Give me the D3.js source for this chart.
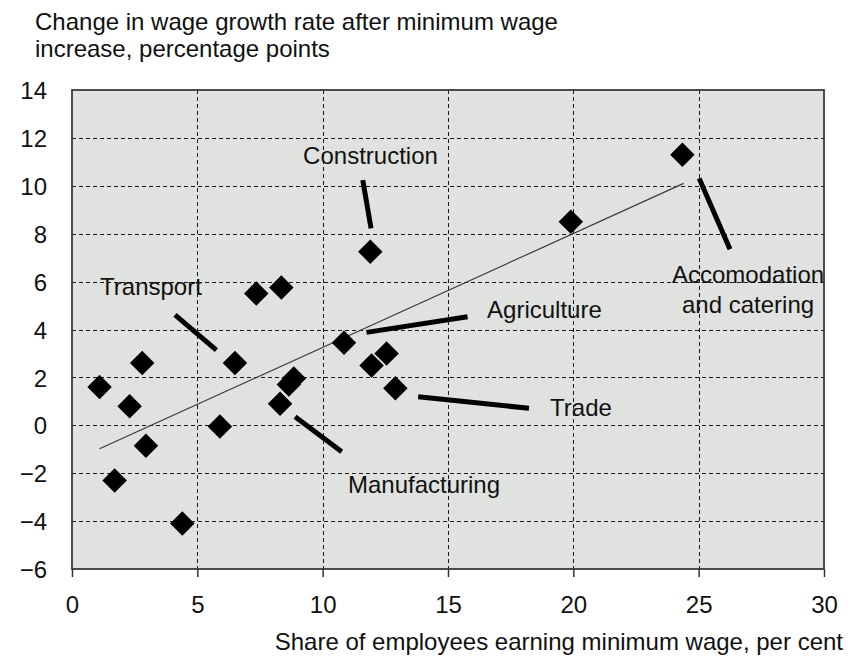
<!DOCTYPE html>
<html>
<head>
<meta charset="utf-8">
<script src="https://cdn.jsdelivr.net/npm/d3@7/dist/d3.min.js"></script>
<style>
  html, body { margin: 0; padding: 0; background: #ffffff; }
  svg { display: block; }
  text { font-family: "Liberation Sans", Arial, sans-serif; fill: #111; }
</style>
</head>
<body>
<div id="chart"></div>
<script>
// ---- data ----
const shareMinWage = [1.1, 2.8, 2.3, 2.95, 1.7, 4.4, 5.9, 6.5, 7.35, 8.35, 8.85, 8.65, 8.3, 10.85, 12.55, 11.95, 12.9, 11.9, 19.9, 24.35];
const wageGrowthChange = [1.6, 2.6, 0.8, -0.85, -2.3, -4.1, -0.05, 2.6, 5.5, 5.75, 1.95, 1.7, 0.9, 3.45, 3.0, 2.5, 1.55, 7.25, 8.5, 11.3];
const trendX = [1.1, 24.4];
const trendY = [-0.98, 10.1];
const xTicks = [0, 5, 10, 15, 20, 25, 30];
const yTicks = [14, 12, 10, 8, 6, 4, 2, 0, -2, -4, -6];
const sectorNames = ["Construction", "Transport", "Agriculture", "Trade", "Manufacturing", "Accomodation|and catering"];
const leaderX1 = [11.6, 4.11, 11.75, 13.81, 8.9, 25.02];
const leaderY1 = [10.24, 4.61, 3.88, 1.19, 0.36, 10.31];
const leaderX2 = [11.93, 5.76, 15.78, 18.23, 10.76, 26.25];
const leaderY2 = [8.22, 3.14, 4.53, 0.71, -1.1, 7.35];
const yTitle = ["Change in wage growth rate after minimum wage", "increase, percentage points"];
const xTitle = "Share of employees earning minimum wage, per cent";

// ---- layout ----
const W = 858, H = 664;
const FONT = '"Liberation Sans", Arial, sans-serif';
const plot = { left: 72, right: 824, top: 90, bottom: 569 };
const labelPos = [  // label anchor (data units), layout only
  { x: 9.22, y: 10.91, anchor: "start" },
  { x: 1.12, y: 5.44, anchor: "start" },
  { x: 16.56, y: 4.48, anchor: "start" },
  { x: 19.07, y: 0.39, anchor: "start" },
  { x: 11.01, y: -2.83, anchor: "start" },
  { x: 26.97, y: 5.94, anchor: "middle", dy: 30 }
];

const svg = d3.select("#chart").append("svg").attr("width", W).attr("height", H);

const x = d3.scaleLinear().domain([0, 30]).range([plot.left, plot.right]);
const y = d3.scaleLinear().domain([-6, 14]).range([plot.bottom, plot.top]);

// background
svg.append("rect")
  .attr("x", plot.left).attr("y", plot.top)
  .attr("width", plot.right - plot.left).attr("height", plot.bottom - plot.top)
  .attr("fill", "#dfe2df");

// grid
const grid = svg.append("g").attr("stroke", "#1a1a1a").attr("stroke-width", 1).attr("stroke-dasharray", "4,3");
grid.selectAll("line.h").data(yTicks.filter(v => v > -6 && v < 14)).join("line")
  .attr("x1", plot.left).attr("x2", plot.right)
  .attr("y1", d => Math.round(y(d)) + 0.5).attr("y2", d => Math.round(y(d)) + 0.5);
grid.selectAll("line.v").data(xTicks.filter(v => v > 0 && v < 30)).join("line")
  .attr("y1", plot.top).attr("y2", plot.bottom)
  .attr("x1", d => Math.round(x(d)) + 0.5).attr("x2", d => Math.round(x(d)) + 0.5);

// x axis (ticks below)
const xAxis = d3.axisBottom(x).tickValues(xTicks).tickSize(8).tickSizeOuter(0).tickFormat(d3.format("d"));
const gx = svg.append("g").attr("transform", `translate(0,${plot.bottom})`).call(xAxis);
gx.select(".domain").remove();
gx.selectAll(".tick line").attr("stroke", "#333").attr("stroke-width", 1.5);
gx.selectAll(".tick text").attr("dy", null).attr("y", 44)
  .style("font-size", "24px").style("font-family", FONT).attr("fill", "#111");

// y axis (labels only)
const yAxis = d3.axisLeft(y).tickValues(yTicks).tickSize(0)
  .tickFormat(d => d < 0 ? "\u2212" + Math.abs(d) : String(d));
const gy = svg.append("g").attr("transform", `translate(${plot.left},0)`).call(yAxis);
gy.select(".domain").remove();
gy.selectAll(".tick text").attr("x", -25).attr("dy", "0.36em")
  .style("font-size", "24px").style("font-family", FONT).attr("fill", "#111");

// frame
svg.append("rect")
  .attr("x", plot.left).attr("y", plot.top)
  .attr("width", plot.right - plot.left).attr("height", plot.bottom - plot.top)
  .attr("fill", "none").attr("stroke", "#3a3a3a").attr("stroke-width", 1.8);

// trend line
svg.append("line")
  .attr("x1", x(trendX[0])).attr("y1", y(trendY[0]))
  .attr("x2", x(trendX[1])).attr("y2", y(trendY[1]))
  .attr("stroke", "#3a3a3a").attr("stroke-width", 1.2);

// leader lines
svg.append("g").selectAll("line").data(sectorNames.map((n, i) => i)).join("line")
  .attr("x1", i => x(leaderX1[i])).attr("y1", i => y(leaderY1[i]))
  .attr("x2", i => x(leaderX2[i])).attr("y2", i => y(leaderY2[i]))
  .attr("stroke", "#000").attr("stroke-width", 5);

// points (diamonds)
const diamond = d3.symbol().type(d3.symbolSquare).size(300);
svg.append("g").selectAll("path").data(shareMinWage.map((v, i) => [v, wageGrowthChange[i]])).join("path")
  .attr("d", diamond)
  .attr("transform", d => `translate(${x(d[0])},${y(d[1])}) rotate(45)`)
  .attr("fill", "#000");

// sector labels
sectorNames.forEach((name, i) => {
  const p = labelPos[i];
  name.split("|").forEach((ln, j) => {
    svg.append("text")
      .attr("x", x(p.x)).attr("y", y(p.y) + (j ? p.dy : 0))
      .attr("text-anchor", p.anchor)
      .style("font-size", "24px")
      .text(ln);
  });
});

// axis titles
yTitle.forEach((t, i) => {
  svg.append("text").attr("x", 35).attr("y", 30 + i * 27)
    .style("font-size", "24px").text(t);
});
svg.append("text").attr("x", 843).attr("y", 650)
  .attr("text-anchor", "end")
  .style("font-size", "24px").text(xTitle);
</script>
</body>
</html>
